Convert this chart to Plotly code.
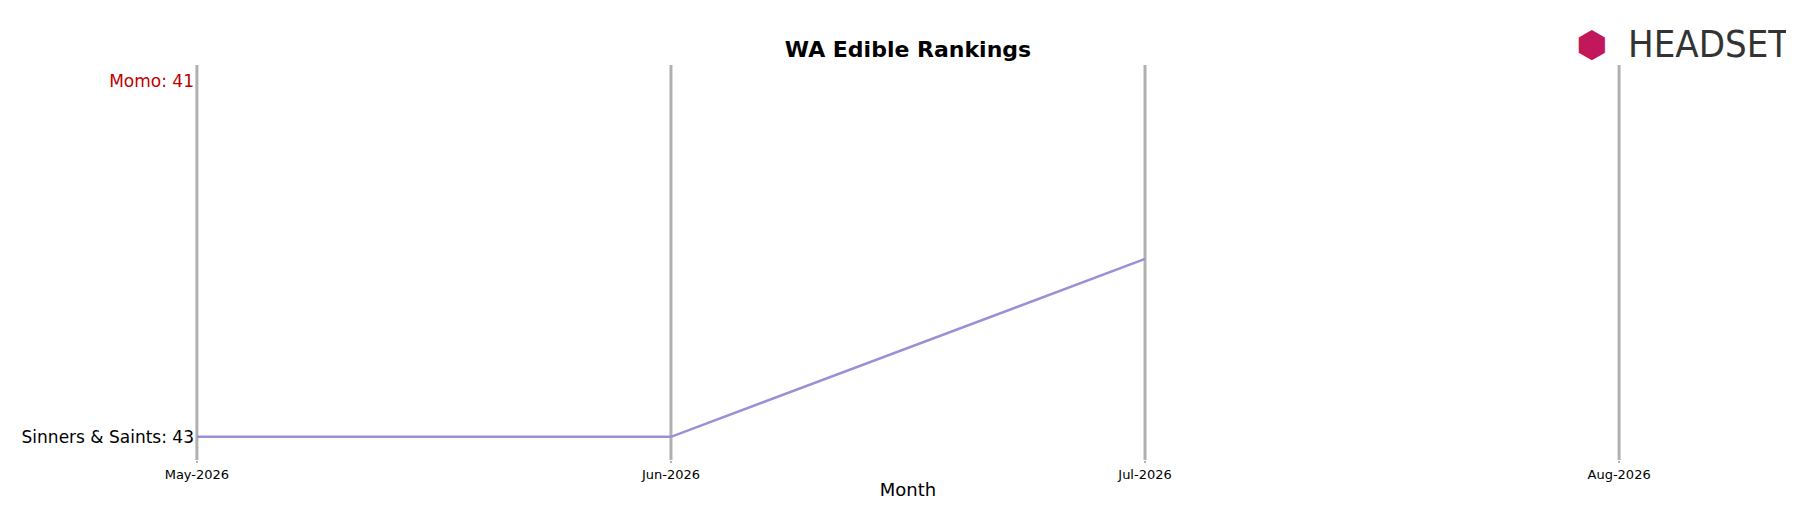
import plotly.graph_objects as go

months = ["May-2026", "Jun-2026", "Jul-2026", "Aug-2026"]
brand = "Sinners & Saints"
ranks = [43, 43, 42, None]
label_ranks = [41, 43]
label_text = ["Momo: 41", "Sinners & Saints: 43"]
label_colors = ["#c00000", "#000000"]

x_idx = list(range(len(months)))

fig = go.Figure()
fig.add_scatter(x=x_idx, y=ranks, mode="lines", name=brand,
                line=dict(color="#9b8fd8", width=2.5), connectgaps=False, cliponaxis=False)

# month guide lines
for i in x_idx:
    fig.add_shape(type="line", xref="x", yref="paper", x0=i, x1=i, y0=0, y1=1,
                  line=dict(color="#b0b0b0", width=3), layer="below")

fig.update_layout(
    width=1794, height=506, template="plotly_white", showlegend=False,
    plot_bgcolor="white", paper_bgcolor="white",
    margin=dict(l=187, r=181, t=57, b=54),
    title=dict(text="<b>WA Edible Rankings</b>", x=0.5, xref="paper", y=0.918,
               yanchor="middle", font=dict(family="DejaVu Sans", size=22, color="black")),
    font=dict(family="DejaVu Sans"),
)
fig.update_xaxes(
    range=[-0.004, 3.004], tickvals=x_idx, ticktext=months, showgrid=False,
    zeroline=False, showline=False,
    ticks="outside", ticklen=2, tickcolor="#b0b0b0", tickwidth=2,
    tickfont=dict(size=13, color="black"),
    title=dict(text="Month", font=dict(size=18, color="black"), standoff=2),
)
fig.update_yaxes(
    range=[43.13, 40.91], tickvals=label_ranks,
    ticktext=[f"<span style='color:{c}'>{t}</span>" for t, c in zip(label_text, label_colors)],
    tickfont=dict(size=17), showgrid=False, zeroline=False, showline=False, ticks="",
)
fig.add_annotation(xref="paper", yref="paper", x=1.119, y=1.053, xanchor="right", yanchor="middle",
                   text="HEADSET", showarrow=False,
                   font=dict(family="DejaVu Sans Condensed", size=38, color="#333333"))
fig.add_annotation(xref="paper", yref="paper", x=0.979, y=1.053, xanchor="center", yanchor="middle",
                   text="⬢", showarrow=False,
                   font=dict(size=36, color="#c2185b"))
fig.write_html("out.html")
